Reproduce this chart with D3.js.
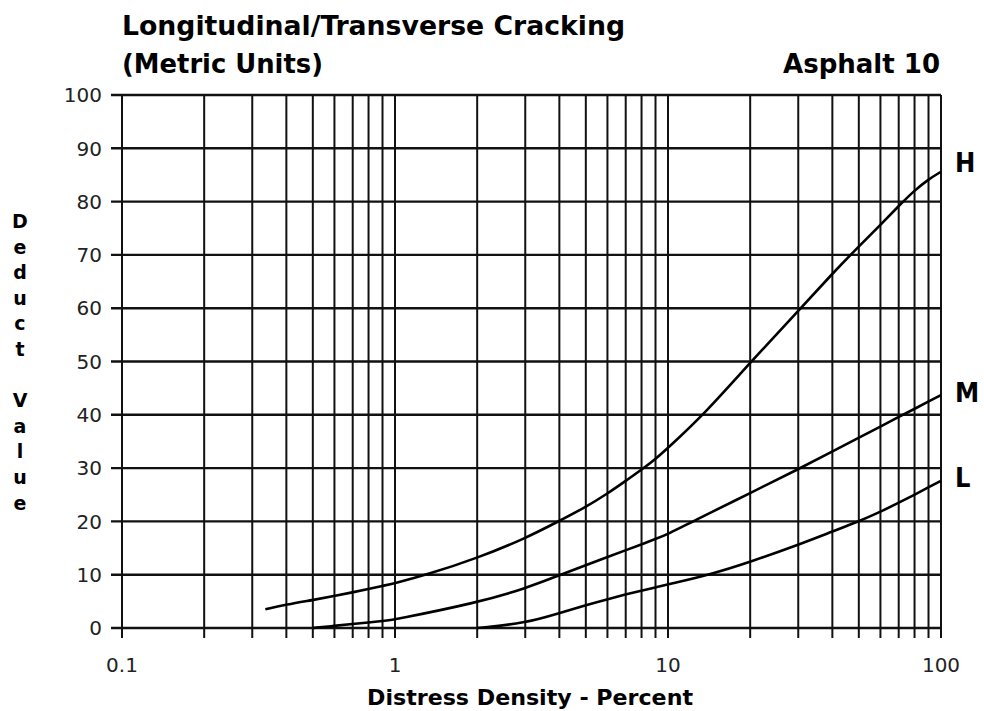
<!DOCTYPE html>
<html>
<head>
<meta charset="utf-8">
<script src="https://cdn.jsdelivr.net/npm/d3@7"></script>
<style>
  html, body { margin: 0; padding: 0; background: #fff; }
  svg { display: block; }
</style>
</head>
<body>
<svg id="chart" width="984" height="711"></svg>
<script>
// ---- data ----
const xTickValues = [0.1, 1, 10, 100];
const xTickLabels = ["0.1", "1", "10", "100"];
const yTickValues = [0, 10, 20, 30, 40, 50, 60, 70, 80, 90, 100];
const xGridValues = [0.1,0.2,0.3,0.4,0.5,0.6,0.7,0.8,0.9,1,2,3,4,5,6,7,8,9,10,20,30,40,50,60,70,80,90,100];

const highX = [0.335,0.4,0.5,0.6,0.7,0.8,0.9,1,1.31,2,3,4,5,6,7,8,9,10,13.5,20,30,40,50,60,70,80,90,100];
const highY = [3.5,4.4,5.25,6.0,6.7,7.3,7.9,8.4,10,13.1,16.8,20.1,22.7,25.2,27.6,29.7,31.7,33.8,40,49.8,59.5,66.5,71.6,75.6,79.2,82.1,84.2,85.6];

const medX = [0.5,0.6,0.7,0.8,0.9,1,2,3,4,5,6,7,8,9,10,12.3,20,30,40,50,60,70,80,90,100];
const medY = [0,0.4,0.75,1.05,1.3,1.6,4.75,7.4,9.9,11.8,13.3,14.6,15.7,16.7,17.6,20,25.3,29.8,33.1,35.7,37.8,39.6,41.1,42.5,43.7];

const lowX = [2,3,4,5,6,7,8,9,10,14.2,20,30,40,50,60,70,80,90,100];
const lowY = [0,0.9,2.8,4.3,5.4,6.3,7.0,7.6,8.2,10,12.4,15.6,18.1,20,21.8,23.5,25,26.4,27.6];

const seriesNames = ["H", "M", "L"];
const titleLines = ["Longitudinal/Transverse Cracking", "(Metric Units)"];
const subTitle = "Asphalt 10";
const xTitle = "Distress Density - Percent";
const yTitle = "Deduct Value";

// ---- layout ----
const svg = d3.select("#chart");
const x = d3.scaleLog().domain([0.1, 100]).range([122, 941]);
const y = d3.scaleLinear().domain([0, 100]).range([628, 95]);
const ink = "#111";
const boldFont = "'DejaVu Sans Condensed', 'DejaVu Sans', sans-serif";
const regFont = "'DejaVu Sans', sans-serif";

function fitWidth(sel, target) {
  const node = sel.node();
  const w = node.getComputedTextLength();
  if (Math.abs(w - target) / target > 0.02) {
    sel.attr("textLength", target).attr("lengthAdjust", "spacingAndGlyphs");
  }
}

// grid: vertical
svg.append("g").selectAll("line").data(xGridValues).join("line")
  .attr("x1", d => x(d)).attr("x2", d => x(d))
  .attr("y1", y(100)).attr("y2", y(0) + 10)
  .attr("stroke", ink).attr("stroke-width", 2);

// grid: horizontal
svg.append("g").selectAll("line").data(yTickValues).join("line")
  .attr("x1", x(0.1) - 11).attr("x2", x(100))
  .attr("y1", d => y(d)).attr("y2", d => y(d))
  .attr("stroke", ink).attr("stroke-width", 2.4);

// y tick labels
svg.append("g").selectAll("text").data(yTickValues).join("text")
  .attr("x", 102).attr("y", d => y(d))
  .attr("dy", "0.36em")
  .attr("text-anchor", "end")
  .attr("font-family", regFont).attr("font-size", 20).attr("fill", "#222")
  .text(d => d);

// x tick labels
svg.append("g").selectAll("text").data(xTickValues).join("text")
  .attr("x", d => x(d)).attr("y", 672)
  .attr("text-anchor", "middle")
  .attr("font-family", regFont).attr("font-size", 20).attr("fill", "#222")
  .text((d, i) => xTickLabels[i]);

// curves
const line = d3.line().x(d => x(d[0])).y(d => y(d[1])).curve(d3.curveBasis);
const series = [
  d3.zip(highX, highY),
  d3.zip(medX, medY),
  d3.zip(lowX, lowY)
];
svg.append("g").selectAll("path").data(series).join("path")
  .attr("d", d => line(d))
  .attr("fill", "none").attr("stroke", "#000").attr("stroke-width", 2.6);

// series labels
const labelBase = [172, 402, 487];
svg.append("g").selectAll("text").data(seriesNames).join("text")
  .attr("x", 955).attr("y", (d, i) => labelBase[i])
  .attr("font-family", boldFont).attr("font-weight", "bold").attr("font-size", 27)
  .attr("fill", "#000")
  .text(d => d);

// titles
const t1 = svg.append("text").attr("x", 122).attr("y", 35)
  .attr("font-family", boldFont).attr("font-weight", "bold").attr("font-size", 27)
  .attr("fill", "#000").text(titleLines[0]);
fitWidth(t1, 503);
const t2 = svg.append("text").attr("x", 122).attr("y", 73)
  .attr("font-family", boldFont).attr("font-weight", "bold").attr("font-size", 27)
  .attr("fill", "#000").text(titleLines[1]);
fitWidth(t2, 201);
const t3 = svg.append("text").attr("x", 940).attr("y", 73)
  .attr("text-anchor", "end")
  .attr("font-family", boldFont).attr("font-weight", "bold").attr("font-size", 27)
  .attr("fill", "#000").text(subTitle);
fitWidth(t3, 157);

// x axis title
const xt = svg.append("text").attr("x", 530).attr("y", 705)
  .attr("text-anchor", "middle")
  .attr("font-family", boldFont).attr("font-weight", "bold").attr("font-size", 22)
  .attr("fill", "#000").text(xTitle);
fitWidth(xt, 326);

// y axis title (stacked letters)
const yChars = yTitle.split("");
svg.append("g").selectAll("text").data(yChars).join("text")
  .attr("x", 20).attr("y", (d, i) => 228 + 25.6 * i)
  .attr("text-anchor", "middle")
  .attr("font-family", "'DejaVu Sans', sans-serif").attr("font-weight", "bold").attr("font-size", 19)
  .attr("fill", "#000")
  .text(d => d);
</script>
</body>
</html>
